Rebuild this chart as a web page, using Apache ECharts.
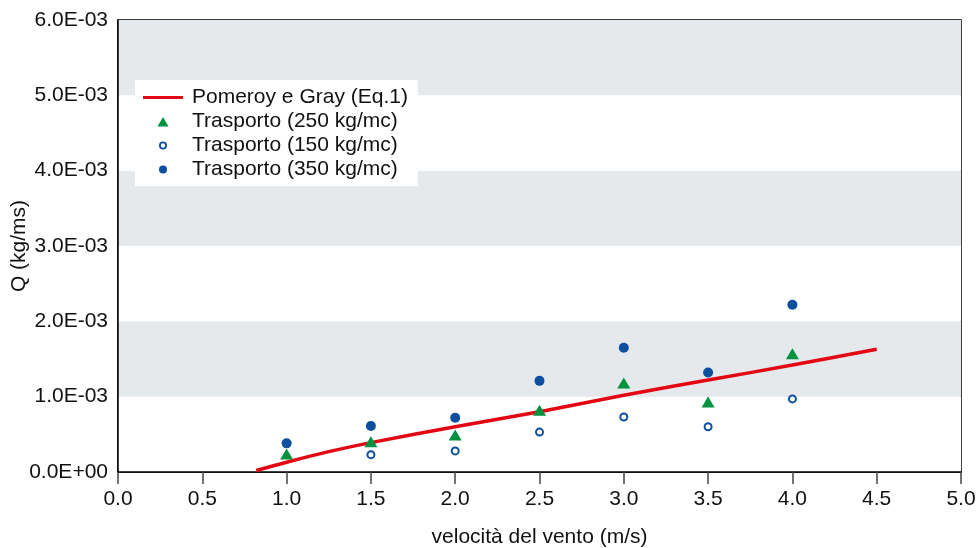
<!DOCTYPE html>
<html><head><meta charset="utf-8">
<script src="https://cdn.jsdelivr.net/npm/echarts@6/dist/echarts.min.js"></script>
<style>html,body{margin:0;padding:0;background:#fff}#c{width:978px;height:548px}</style>
</head><body><div id="c"></div>
<script>
const velocity = [1.0, 1.5, 2.0, 2.5, 3.0, 3.5, 4.0];
const q250 = [0.00024, 0.00040, 0.00049, 0.00082, 0.00118, 0.00093, 0.00157];
const q150 = [null, 0.00023, 0.00028, 0.00053, 0.00073, 0.00060, 0.00097];
const q350 = [0.00038, 0.00061, 0.00072, 0.00121, 0.00165, 0.00132, 0.00222];
const pomeroyX = [0.82, 1.0, 1.25, 1.5, 2.0, 2.5, 3.0, 3.5, 4.0, 4.5];
const pomeroyY = [0.00002, 0.00013, 0.00027, 0.00039, 0.00060, 0.00080, 0.00102, 0.00122, 0.00142, 0.00163];
const names = ['Pomeroy e Gray (Eq.1)', 'Trasporto (250 kg/mc)', 'Trasporto (150 kg/mc)', 'Trasporto (350 kg/mc)'];

const pair = (xs, ys) => xs.map((x, i) => [x, ys[i]]).filter(p => p[1] !== null);
function sci(v) {
  if (v === 0) return '0.0E+00';
  const s = v.toExponential(1).toUpperCase();
  const m = s.match(/^(.*)E([+-])(\d+)$/);
  return m[1] + 'E' + m[2] + m[3].padStart(2, '0');
}
const F = '"Liberation Sans", Arial, sans-serif';
const FS = 21;
const blue = '#0b4f9e', green = '#00923f', red = '#e30613';
const box = 'M0,0 M40,14 ';
const chart = echarts.init(document.getElementById('c'));
chart.setOption({
  animation: false,
  textStyle: { fontFamily: F },
  grid: { left: 118, right: 17, top: 20, bottom: 76, outerBoundsMode: 'none', containLabel: false,
    show: true, borderColor: '#000', borderWidth: 1.5 },
  legend: {
    orient: 'vertical', left: 135, top: 80,
    backgroundColor: '#fff', padding: [7, 10, 6, 8],
    itemWidth: 40, itemHeight: 14, itemGap: 3,
    textStyle: { fontSize: FS, lineHeight: 21, color: '#111', fontFamily: F, padding: [0, 0, 0, 4] },
    data: [
      { name: names[0], icon: 'path://' + box + 'M0,5.5 L40,5.5 L40,8.5 L0,8.5 Z', itemStyle: { color: red, borderWidth: 0 } },
      { name: names[1], icon: 'path://' + box + 'M14.5,12 L20,2.5 L25.5,12 Z', itemStyle: { color: green, borderWidth: 0 } },
      { name: names[2], icon: 'path://' + box + 'M16,7 A4,4 0 1,0 24,7 A4,4 0 1,0 16,7 Z M17.8,7 A2.2,2.2 0 1,1 22.2,7 A2.2,2.2 0 1,1 17.8,7 Z', itemStyle: { color: blue, borderWidth: 0 } },
      { name: names[3], icon: 'path://' + box + 'M16,7 A4,4 0 1,0 24,7 A4,4 0 1,0 16,7 Z', itemStyle: { color: blue, borderWidth: 0 } }
    ]
  },
  xAxis: {
    type: 'value', min: 0, max: 5, interval: 0.5,
    name: 'velocità del vento (m/s)', nameLocation: 'middle', nameGap: 55,
    nameTextStyle: { fontSize: FS, color: '#111', fontFamily: F },
    axisLine: { lineStyle: { color: '#000', width: 1.5 } },
    axisTick: { show: true, length: 12, lineStyle: { color: '#444', width: 1.5 } },
    axisLabel: { fontSize: FS, color: '#111', margin: 17, formatter: v => v.toFixed(1) },
    splitLine: { show: false }
  },
  yAxis: {
    type: 'value', min: 0, max: 0.006, interval: 0.001,
    name: 'Q (kg/ms)', nameLocation: 'middle', nameGap: 88, nameRotate: 90, nameMoveOverlap: false,
    nameTextStyle: { fontSize: FS, color: '#111', fontFamily: F },
    axisLine: { lineStyle: { color: '#000', width: 1.5 } },
    axisTick: { show: false },
    axisLabel: { fontSize: FS, color: '#111', margin: 10, formatter: sci },
    splitLine: { show: false },
    splitArea: { show: true, areaStyle: { color: ['#ffffff', '#e6e9ec'] } }
  },
  series: [
    { name: names[0], type: 'line', data: pair(pomeroyX, pomeroyY), smooth: 0.3, symbol: 'none',
      lineStyle: { color: red, width: 3.5 }, itemStyle: { color: red }, z: 3 },
    { name: names[1], type: 'scatter', data: pair(velocity, q250), symbol: 'triangle', symbolSize: [13, 11],
      itemStyle: { color: green, opacity: 1 }, z: 4 },
    { name: names[2], type: 'scatter', data: pair(velocity, q150), symbol: 'circle', symbolSize: 7,
      itemStyle: { color: '#fff', borderColor: blue, borderWidth: 2, opacity: 1 }, z: 4 },
    { name: names[3], type: 'scatter', data: pair(velocity, q350), symbol: 'circle', symbolSize: 10,
      itemStyle: { color: blue, opacity: 1 }, z: 4 }
  ]
});
</script></body></html>
